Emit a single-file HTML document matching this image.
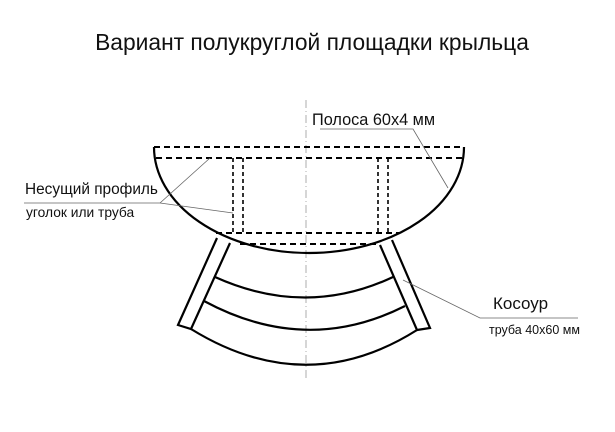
<!DOCTYPE html>
<html><head><meta charset="utf-8"><style>body{margin:0;background:#fff}svg{display:block}text{font-family:"Liberation Sans",sans-serif;fill:#111}</style></head><body>
<svg width="615" height="432" viewBox="0 0 615 432">
<text x="312" y="50" font-size="22.8" text-anchor="middle">Вариант полукруглой площадки крыльца</text>
<line x1="306" y1="100" x2="306" y2="378" stroke="#999" stroke-width="0.8" stroke-dasharray="8,3,1,3"/>
<g fill="none" stroke="#000" stroke-width="2" stroke-dasharray="6,4">
<line x1="154" y1="147" x2="464" y2="147"/>
<line x1="156" y1="158" x2="462" y2="158"/>
<line x1="216" y1="233" x2="400" y2="233"/>
<line x1="240" y1="244" x2="378" y2="244"/>
<path d="M233 158V233M243 158V233M378 158V233M388 158V233" stroke-width="1.6" stroke-dasharray="4,3"/>
</g>
<g fill="none" stroke="#000" stroke-width="2.2">
<path d="M154 147 A155 106 0 0 0 464 147"/>
<path d="M217 238L178 325L191 329L230 243"/>
<path d="M392 240L430 328L417 330L380 245"/>
<path d="M215 277Q306 318 393 277"/>
<path d="M204 301Q306 356 405 306"/>
<path d="M191 329Q306 400 417 330"/>
</g>
<g stroke="#666" stroke-width="0.8" fill="none">
<path d="M320 129H413L448 188"/>
<path d="M24 203H160L210 158M160 203L233 213"/>
<path d="M578 318H480L403 280"/>
</g>
<text x="312" y="125" font-size="16.3">Полоса 60x4 мм</text>
<text x="25" y="194" font-size="15.4">Несущий профиль</text>
<text x="26" y="217" font-size="13.8">уголок или труба</text>
<text x="493" y="309" font-size="17">Косоур</text>
<text x="489" y="334" font-size="12.5">труба 40x60 мм</text>
</svg>
</body></html>
